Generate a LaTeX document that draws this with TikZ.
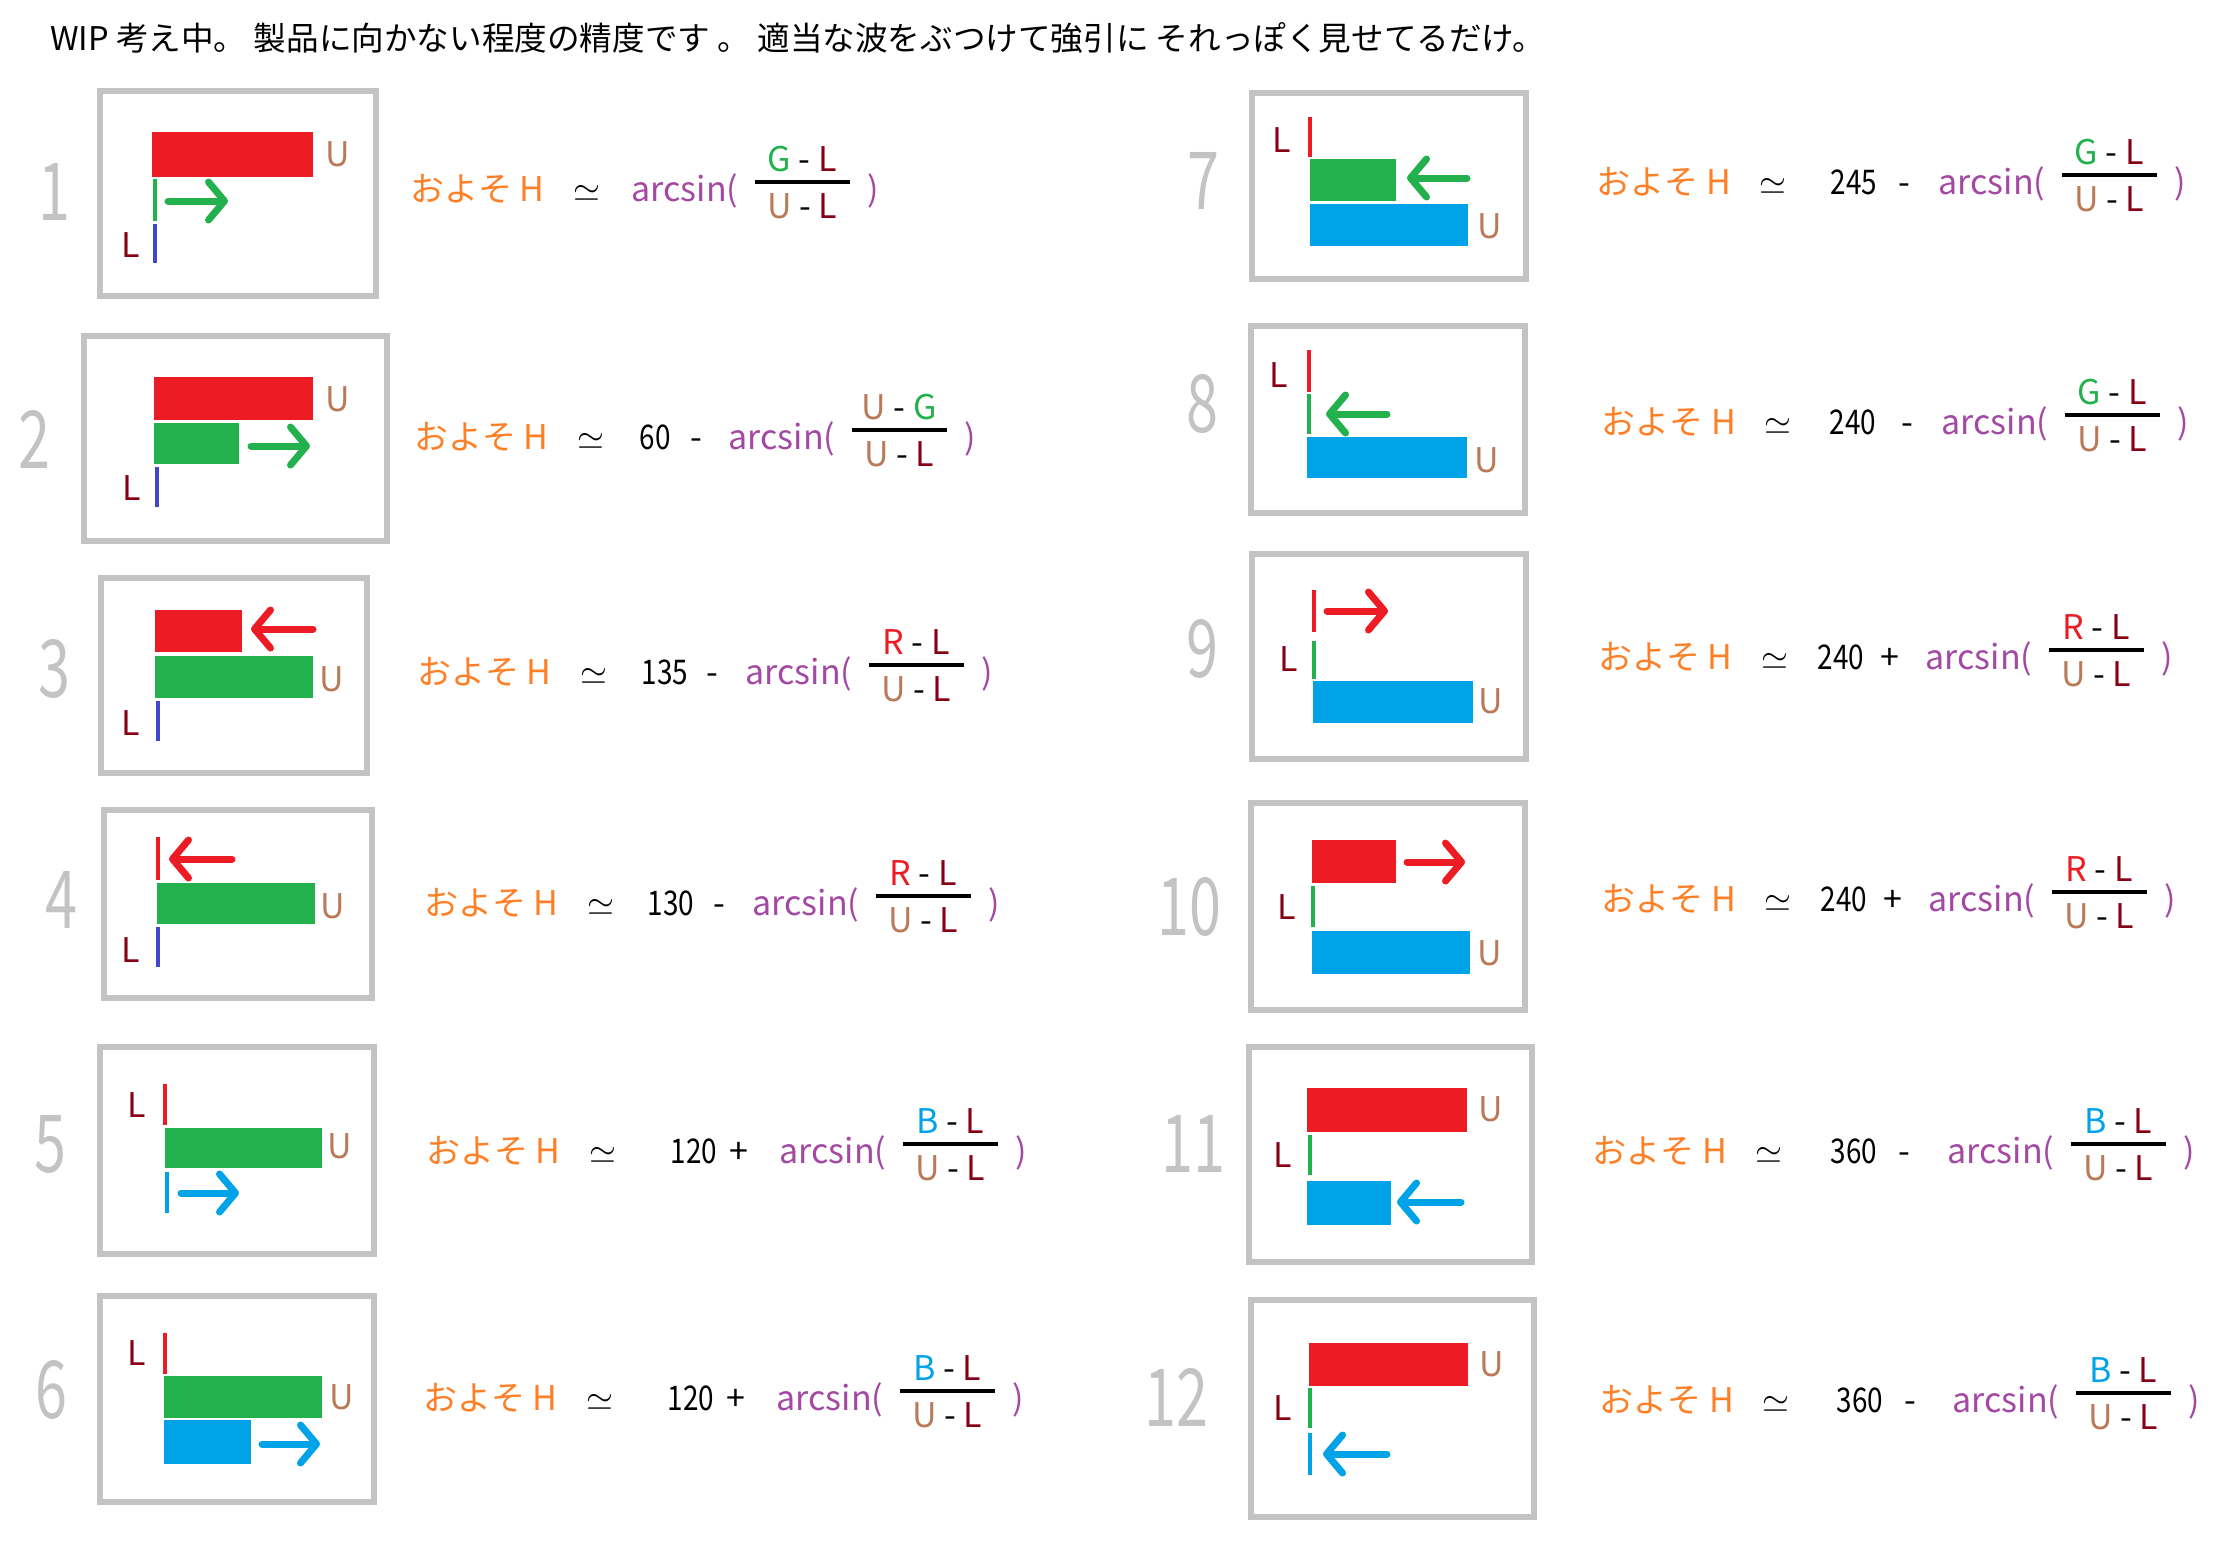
\documentclass[tikz,border=0pt]{standalone}
\usepackage{fontspec}
\usepackage{graphicx}
\setmainfont{Noto Sans CJK JP}
\usetikzlibrary{arrows.meta}

\definecolor{pRed}{HTML}{ED1C24}
\definecolor{pGreen}{HTML}{22B14C}
\definecolor{pIndigo}{HTML}{3F48CC}
\definecolor{pCyan}{HTML}{00A2E8}
\definecolor{pGray}{HTML}{C3C3C3}
\definecolor{pOrange}{HTML}{FF7F27}
\definecolor{pPurple}{HTML}{A349A4}
\definecolor{pBrown}{HTML}{B97A57}
\definecolor{pDark}{HTML}{880015}

\newcommand{\lt}[2]{\textcolor{#1}{#2}}
\newcommand{\slim}[1]{\scalebox{0.72}[1]{#1}}

\tikzset{
  panelbox/.style={draw=pGray, line width=3pt},
  vtick/.style={line width=2.2pt},
  wave/.style={line width=3.5pt, line cap=round, -{Straight Barb[length=8pt,width=19pt,round]}},
  num/.style={text=pGray, font=\fontsize{40}{42}\selectfont},
  ulab/.style={text=pBrown, font=\fontsize{17}{20}\selectfont},
  llab/.style={text=pDark, font=\fontsize{17}{20}\selectfont},
  hform/.style={inner sep=0pt, text height=12pt, text depth=0pt, font=\fontsize{17}{20}\selectfont},
  fracbar/.style={line width=2pt},
}

\newcommand{\hlead}[3]{%
  \node[hform,anchor=west,text=pOrange] (#1a) at (#3,#2) {およそ H};
  \node[hform] (#1s) at (#3+177,#2) {$\simeq$};
}
\newcommand{\hconst}[6]{%
  \node[hform] (#1c) at (#3,#2) {\scalebox{0.82}[1]{#4}};
  \node[hform] (#1p) at (#5,#2) {#6};
}
\newcommand{\harc}[4]{%
  \node[hform,anchor=west,text=pPurple] (#1f) at (#3,#2) {arcsin(};
  \node[hform] (#1n) at (#3+171,#2-30) {#4};
  \node[hform] (#1d) at (#3+171,#2+17) {\lt{pBrown}{U} - \lt{pDark}{L}};
  \draw[fracbar] (#3+124,#2-7) -- (#3+219,#2-7);
  \node[hform,text=pPurple] (#1e) at (#3+242,#2) {)};
}

\begin{document}
\begin{tikzpicture}[x=0.5pt,y=-0.5pt]
\useasboundingbox (0,0) rectangle (2233,1549);
\node[anchor=west, font=\fontsize{16.3}{18}\selectfont] (title) at (43,38) {WIP 考え中。 製品に向かない程度の精度です 。 適当な波をぶつけて強引に それっぽく見せてるだけ。};

\draw[panelbox] (100,91) rectangle (376,296);
\node[num] (n1) at (54,192) {\slim{1}};
\fill[pRed] (152,132) rectangle (313,177);
\node[ulab] (u1) at (338,154) {U};
\draw[vtick,pGreen] (155,179) -- (155,221);
\draw[wave,pGreen] (168,201) -- (228,201);
\draw[vtick,pIndigo] (155,224) -- (155,263);
\node[llab] (l1) at (131,245) {L};
\hlead{f1}{189}{410}
\harc{f1}{189}{631}{\lt{pGreen}{G} - \lt{pDark}{L}}

\draw[panelbox] (84,336) rectangle (387,541);
\node[num] (n2) at (34,439) {\slim{2}};
\fill[pRed] (154,377) rectangle (313,420);
\fill[pGreen] (154,423) rectangle (239,464);
\node[ulab] (u2) at (338,399) {U};
\draw[wave,pGreen] (251,446) -- (310,446);
\draw[vtick,pIndigo] (157,467) -- (157,507);
\node[llab] (l2) at (132,488) {L};
\hlead{f2}{437}{414}
\hconst{f2}{437}{655}{60}{696}{-}
\harc{f2}{437}{728}{\lt{pBrown}{U} - \lt{pGreen}{G}}

\draw[panelbox] (101,578) rectangle (367,773);
\node[num] (n3) at (54,669) {\slim{3}};
\fill[pRed] (155,610) rectangle (242,652);
\draw[wave,pRed] (313,629) -- (251,629);
\fill[pGreen] (155,656) rectangle (313,698);
\node[ulab] (u3) at (332,679) {U};
\draw[vtick,pIndigo] (158,701) -- (158,741);
\node[llab] (l3) at (131,723) {L};
\hlead{f3}{672}{417}
\hconst{f3}{672}{665}{135}{712}{-}
\harc{f3}{672}{745}{\lt{pRed}{R} - \lt{pDark}{L}}

\draw[panelbox] (104,810) rectangle (372,998);
\node[num] (n4) at (61,900) {\slim{4}};
\draw[vtick,pRed] (158,837) -- (158,880);
\draw[wave,pRed] (232,859) -- (169,859);
\fill[pGreen] (157,883) rectangle (315,924);
\node[ulab] (u4) at (333,906) {U};
\draw[vtick,pIndigo] (158,927) -- (158,967);
\node[llab] (l4) at (131,950) {L};
\hlead{f4}{903}{424}
\hconst{f4}{903}{671}{130}{719}{-}
\harc{f4}{903}{752}{\lt{pRed}{R} - \lt{pDark}{L}}

\draw[panelbox] (100,1047) rectangle (374,1254);
\node[num] (n5) at (50,1144) {\slim{5}};
\node[llab] (l5) at (137,1105) {L};
\draw[vtick,pRed] (165,1084) -- (165,1125);
\fill[pGreen] (165,1128) rectangle (322,1168);
\node[ulab] (u5) at (340,1146) {U};
\draw[vtick,pCyan] (167,1172) -- (167,1213);
\draw[wave,pCyan] (181,1193) -- (239,1193);
\hlead{f5}{1151}{426}
\hconst{f5}{1151}{694}{120}{739}{+}
\harc{f5}{1151}{779}{\lt{pCyan}{B} - \lt{pDark}{L}}

\draw[panelbox] (100,1296) rectangle (374,1502);
\node[num] (n6) at (51,1390) {\slim{6}};
\node[llab] (l6) at (137,1353) {L};
\draw[vtick,pRed] (165,1333) -- (165,1374);
\fill[pGreen] (164,1376) rectangle (322,1418);
\node[ulab] (u6) at (342,1397) {U};
\fill[pCyan] (164,1420) rectangle (251,1464);
\draw[wave,pCyan] (262,1444) -- (320,1444);
\hlead{f6}{1398}{423}
\hconst{f6}{1398}{691}{120}{736}{+}
\harc{f6}{1398}{776}{\lt{pCyan}{B} - \lt{pDark}{L}}

\draw[panelbox] (1252,93) rectangle (1526,279);
\node[num] (n7) at (1203,181) {\slim{7}};
\node[llab] (l7) at (1282,140) {L};
\draw[vtick,pRed] (1310,117) -- (1310,157);
\fill[pGreen] (1310,159) rectangle (1396,201);
\draw[wave,pGreen] (1467,178) -- (1407,178);
\fill[pCyan] (1310,204) rectangle (1468,246);
\node[ulab] (u7) at (1490,226) {U};
\hlead{f7}{182}{1596}
\hconst{f7}{182}{1854}{245}{1904}{-}
\harc{f7}{182}{1938}{\lt{pGreen}{G} - \lt{pDark}{L}}

\draw[panelbox] (1251,326) rectangle (1525,513);
\node[num] (n8) at (1202,404) {\slim{8}};
\node[llab] (l8) at (1279,375) {L};
\draw[vtick,pRed] (1309,350) -- (1309,392);
\draw[vtick,pGreen] (1309,394) -- (1309,434);
\draw[wave,pGreen] (1387,414) -- (1326,414);
\fill[pCyan] (1307,437) rectangle (1467,478);
\node[ulab] (u8) at (1487,460) {U};
\hlead{f8}{422}{1601}
\hconst{f8}{422}{1853}{240}{1907}{-}
\harc{f8}{422}{1941}{\lt{pGreen}{G} - \lt{pDark}{L}}

\draw[panelbox] (1252,554) rectangle (1526,759);
\node[num] (n9) at (1202,649) {\slim{9}};
\draw[vtick,pRed] (1314,590) -- (1314,632);
\draw[wave,pRed] (1327,611) -- (1388,611);
\node[llab] (l9) at (1289,659) {L};
\draw[vtick,pGreen] (1314,641) -- (1314,679);
\fill[pCyan] (1313,681) rectangle (1473,723);
\node[ulab] (u9) at (1491,701) {U};
\hlead{f9}{657}{1598}
\hconst{f9}{657}{1841}{240}{1890}{+}
\harc{f9}{657}{1925}{\lt{pRed}{R} - \lt{pDark}{L}}

\draw[panelbox] (1251,803) rectangle (1525,1010);
\node[num] (n10) at (1189,907) {\slim{10}};
\fill[pRed] (1312,840) rectangle (1396,883);
\draw[wave,pRed] (1407,862) -- (1465,862);
\node[llab] (l10) at (1287,907) {L};
\draw[vtick,pGreen] (1313,886) -- (1313,927);
\fill[pCyan] (1312,931) rectangle (1470,974);
\node[ulab] (u10) at (1490,953) {U};
\hlead{f10}{899}{1601}
\hconst{f10}{899}{1844}{240}{1893}{+}
\harc{f10}{899}{1928}{\lt{pRed}{R} - \lt{pDark}{L}}

\draw[panelbox] (1249,1047) rectangle (1532,1262);
\node[num] (n11) at (1193,1144) {\slim{11}};
\fill[pRed] (1307,1088) rectangle (1467,1132);
\node[ulab] (u11) at (1491,1109) {U};
\node[llab] (l11) at (1283,1155) {L};
\draw[vtick,pGreen] (1310,1135) -- (1310,1175);
\fill[pCyan] (1307,1181) rectangle (1391,1225);
\draw[wave,pCyan] (1461,1202) -- (1397,1202);
\hlead{f11}{1151}{1592}
\hconst{f11}{1151}{1854}{360}{1904}{-}
\harc{f11}{1151}{1947}{\lt{pCyan}{B} - \lt{pDark}{L}}

\draw[panelbox] (1251,1300) rectangle (1534,1517);
\node[num] (n12) at (1176,1397) {\slim{12}};
\fill[pRed] (1309,1343) rectangle (1468,1386);
\node[ulab] (u12) at (1492,1364) {U};
\node[llab] (l12) at (1283,1408) {L};
\draw[vtick,pGreen] (1310,1388) -- (1310,1428);
\draw[vtick,pCyan] (1310,1433) -- (1310,1475);
\draw[wave,pCyan] (1387,1454) -- (1323,1454);
\hlead{f12}{1400}{1599}
\hconst{f12}{1400}{1860}{360}{1910}{-}
\harc{f12}{1400}{1952}{\lt{pCyan}{B} - \lt{pDark}{L}}
\end{tikzpicture}
\end{document}
